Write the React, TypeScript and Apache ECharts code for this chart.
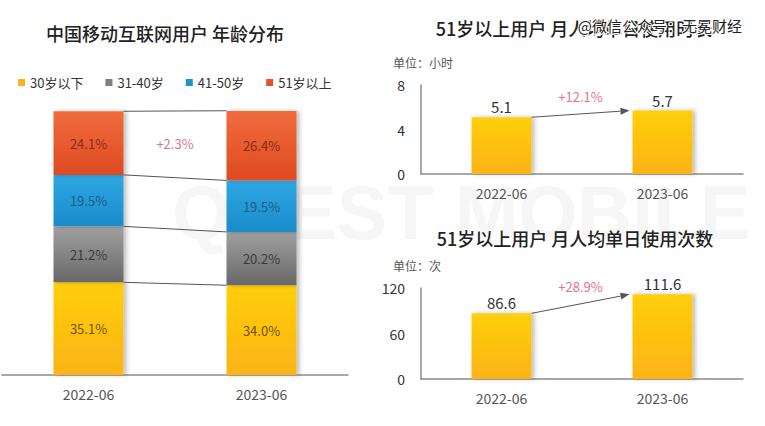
import React, { useEffect, useRef } from 'react';
import * as echarts from 'echarts';

const periods = ['2022-06', '2023-06'];
const ageGroups = ['30岁以下', '31-40岁', '41-50岁', '51岁以上'];
const under30 = [35.1, 34.0];
const age31to40 = [21.2, 20.2];
const age41to50 = [19.5, 19.5];
const over51 = [24.1, 26.4];
const shareChange = '+2.3%';

const durationHours = [5.1, 5.7];
const durationGrowth = '+12.1%';
const dailyTimes = [86.6, 111.6];
const timesGrowth = '+28.9%';

const hoursAxis = { max: 8, interval: 4 };
const timesAxis = { max: 120, interval: 60 };

const titleLeft = '中国移动互联网用户 年龄分布';
const titleTopRight = '51岁以上用户 月人均单日使用时长';
const titleBottomRight = '51岁以上用户 月人均单日使用次数';
const unitHours = '单位：小时';
const unitTimes = '单位：次';
const watermarkText = '@微信公众号：无冕财经';

const FONT = "'Noto Sans CJK SC', 'Noto Sans', sans-serif";
const PINK = '#e8708a';

const grad = (top: string, bottom: string) =>
  new echarts.graphic.LinearGradient(0, 0, 0, 1, [
    { offset: 0, color: top },
    { offset: 1, color: bottom },
  ]);

const ageSeries = [under30, age31to40, age41to50, over51];
const ageColors = [
  grad('#ffcf0a', '#fcb316'),
  grad('#a0a0a0', '#686868'),
  grad('#2fa8e4', '#1a8bc9'),
  grad('#f06c3e', '#de4a22'),
];
const ageLegendColors = ['#f6b51c', '#7f7f7f', '#1f93d2', '#e4542b'];
const ageLabelColors = ['#6e5200', '#3a3a3a', '#1c5c88', '#8a2a10'];

export default function App() {
  const ref = useRef<HTMLDivElement>(null);

  useEffect(() => {
    if (!ref.current) return;
    const chart = echarts.init(ref.current, undefined, { renderer: 'svg' });

    const LBW = 70; // left bar width
    const RBW = 60; // right bar width

    const boundaries: number[][] = [];
    for (let k = 1; k <= ageSeries.length; k++) {
      const s0 = ageSeries.slice(0, k).reduce((a, arr) => a + arr[0], 0);
      const s1 = ageSeries.slice(0, k).reduce((a, arr) => a + arr[1], 0);
      boundaries.push([0, s0, s1]);
    }
    const redMid0 = boundaries[2][1] + over51[0] / 2;

    const barSeries = ageSeries.map((vals, i) => ({
      name: ageGroups[i],
      type: 'bar',
      stack: 'age',
      xAxisIndex: 0,
      yAxisIndex: 0,
      barWidth: LBW,
      data: vals,
      itemStyle: {
        color: ageColors[i],
        shadowColor: 'rgba(0,0,0,0.25)',
        shadowBlur: 4,
        shadowOffsetX: 3,
      },
      label: {
        show: true,
        position: 'inside',
        formatter: (p: any) => Number(p.value).toFixed(1) + '%',
        color: ageLabelColors[i],
        fontSize: 13,
        fontFamily: FONT,
      },
    }));

    const arrowRender = (label: string, bw: number) => (params: any, api: any) => {
      const a = api.coord([0, api.value(1)]);
      const b = api.coord([1, api.value(2)]);
      const x1 = a[0] + bw / 2;
      const y1 = a[1];
      const x2 = b[0] - bw / 2 - 3;
      const y2 = b[1];
      const ang = Math.atan2(y2 - y1, x2 - x1);
      const L = 9;
      const W = 3.5;
      const bx = x2 - L * Math.cos(ang);
      const by = y2 - L * Math.sin(ang);
      return {
        type: 'group',
        children: [
          {
            type: 'line',
            shape: { x1, y1, x2: bx, y2: by },
            style: { stroke: '#555', lineWidth: 1 },
          },
          {
            type: 'polygon',
            shape: {
              points: [
                [x2, y2],
                [bx + W * Math.sin(ang), by - W * Math.cos(ang)],
                [bx - W * Math.sin(ang), by + W * Math.cos(ang)],
              ],
            },
            style: { fill: '#555' },
          },
          {
            type: 'text',
            x: (x1 + x2) / 2,
            y: (y1 + y2) / 2 - 17,
            style: {
              text: label,
              fill: PINK,
              fontSize: 13,
              fontFamily: FONT,
              align: 'center',
              verticalAlign: 'middle',
            },
          },
        ],
      };
    };

    const rightBar = (vals: number[], idx: number) => ({
      type: 'bar',
      xAxisIndex: idx,
      yAxisIndex: idx,
      barWidth: RBW,
      data: vals,
      itemStyle: {
        color: grad('#ffcf0a', '#fcb316'),
        shadowColor: 'rgba(0,0,0,0.25)',
        shadowBlur: 4,
        shadowOffsetX: 3,
      },
      label: {
        show: true,
        position: 'top',
        distance: 3,
        color: '#333',
        fontSize: 15,
        fontFamily: FONT,
      },
    });

    const xAxisCommon = {
      type: 'category',
      data: periods,
      axisTick: { show: false },
      axisLine: { lineStyle: { color: '#8c8c8c', width: 1.5 } },
      axisLabel: { color: '#555', fontSize: 14, fontFamily: FONT, margin: 12 },
    };

    const textEl = (text: string, x: number, y: number, size: number, extra: any = {}) => ({
      type: 'text',
      x,
      y,
      z: 100,
      style: {
        text,
        fill: '#333',
        fontSize: size,
        fontFamily: FONT,
        align: 'center',
        verticalAlign: 'middle',
        ...extra,
      },
    });

    chart.setOption({
      animation: false,
      backgroundColor: '#fff',
      textStyle: { fontFamily: FONT },
      legend: {
        data: ageGroups.map((n, i) => ({ name: n, itemStyle: { color: ageLegendColors[i] } })),
        left: 13,
        top: 71,
        icon: 'rect',
        itemWidth: 7,
        itemHeight: 7,
        itemGap: 22,
        selectedMode: false,
        textStyle: { color: '#333', fontSize: 13, fontFamily: FONT },
      },
      grid: [
        { left: 2, top: 111, width: 346, height: 264 },
        { left: 421, top: 85, width: 322, height: 89 },
        { left: 421, top: 288, width: 322, height: 91 },
      ],
      xAxis: [
        { ...xAxisCommon, gridIndex: 0 },
        { ...xAxisCommon, gridIndex: 1 },
        { ...xAxisCommon, gridIndex: 2 },
      ],
      yAxis: [
        { type: 'value', gridIndex: 0, min: 0, max: 100, show: false },
        {
          type: 'value',
          gridIndex: 1,
          min: 0,
          max: hoursAxis.max,
          interval: hoursAxis.interval,
          splitLine: { show: false },
          axisTick: { show: false },
          axisLine: { show: true, lineStyle: { color: '#8c8c8c', width: 1.5 } },
          axisLabel: { color: '#333', fontSize: 14, fontFamily: FONT, margin: 16 },
        },
        {
          type: 'value',
          gridIndex: 2,
          min: 0,
          max: timesAxis.max,
          interval: timesAxis.interval,
          splitLine: { show: false },
          axisTick: { show: false },
          axisLine: { show: true, lineStyle: { color: '#8c8c8c', width: 1.5 } },
          axisLabel: { color: '#333', fontSize: 14, fontFamily: FONT, margin: 16 },
        },
      ],
      series: [
        ...barSeries,
        {
          type: 'custom',
          xAxisIndex: 0,
          yAxisIndex: 0,
          encode: { x: 0, y: 1 },
          data: boundaries,
          z: 3,
          renderItem: (params: any, api: any) => {
            const a = api.coord([0, api.value(1)]);
            const b = api.coord([1, api.value(2)]);
            return {
              type: 'line',
              shape: { x1: a[0] + LBW / 2, y1: a[1], x2: b[0] - LBW / 2, y2: b[1] },
              style: { stroke: '#555', lineWidth: 1 },
            };
          },
        },
        {
          type: 'custom',
          xAxisIndex: 0,
          yAxisIndex: 0,
          encode: { x: 0, y: 1 },
          data: [[0, redMid0]],
          z: 3,
          renderItem: (params: any, api: any) => {
            const a = api.coord([0, api.value(1)]);
            const b = api.coord([1, api.value(1)]);
            return {
              type: 'text',
              x: (a[0] + b[0]) / 2,
              y: a[1],
              style: {
                text: shareChange,
                fill: PINK,
                fontSize: 13,
                fontFamily: FONT,
                align: 'center',
                verticalAlign: 'middle',
              },
            };
          },
        },
        rightBar(durationHours, 1),
        {
          type: 'custom',
          xAxisIndex: 1,
          yAxisIndex: 1,
          encode: { x: 0, y: 1 },
          data: [[0, durationHours[0], durationHours[1]]],
          z: 3,
          renderItem: arrowRender(durationGrowth, RBW),
        },
        rightBar(dailyTimes, 2),
        {
          type: 'custom',
          xAxisIndex: 2,
          yAxisIndex: 2,
          encode: { x: 0, y: 1 },
          data: [[0, dailyTimes[0], dailyTimes[1]]],
          z: 3,
          renderItem: arrowRender(timesGrowth, RBW),
        },
      ],
      graphic: [
        {
          type: 'text',
          x: 172,
          y: 212,
          z: -10,
          silent: true,
          style: {
            text: 'QUEST MOBILE',
            fill: '#f6f6f6',
            fontSize: 76,
            fontWeight: 'bold',
            fontFamily: "'Liberation Sans', sans-serif",
            align: 'left',
            verticalAlign: 'middle',
          },
        },
        textEl(titleLeft, 165, 33, 18, { fill: '#222', fontWeight: 500 }),
        textEl(titleTopRight, 574, 28, 18, { fill: '#222', fontWeight: 500 }),
        textEl(titleBottomRight, 575, 238, 18, { fill: '#222', fontWeight: 500 }),
        textEl(unitHours, 393, 62, 12, { align: 'left', fill: '#555' }),
        textEl(unitTimes, 393, 265, 12, { align: 'left', fill: '#555' }),
        {
          ...textEl(watermarkText, 742, 25, 15, {
            align: 'right',
            fill: '#222',
            stroke: '#fff',
            lineWidth: 2,
          }),
          z: 200,
        },
      ],
    });

    return () => chart.dispose();
  }, []);

  return (
    <div
      ref={ref}
      style={{ position: 'absolute', left: 0, top: 0, width: 765, height: 426, background: '#fff' }}
    />
  );
}
